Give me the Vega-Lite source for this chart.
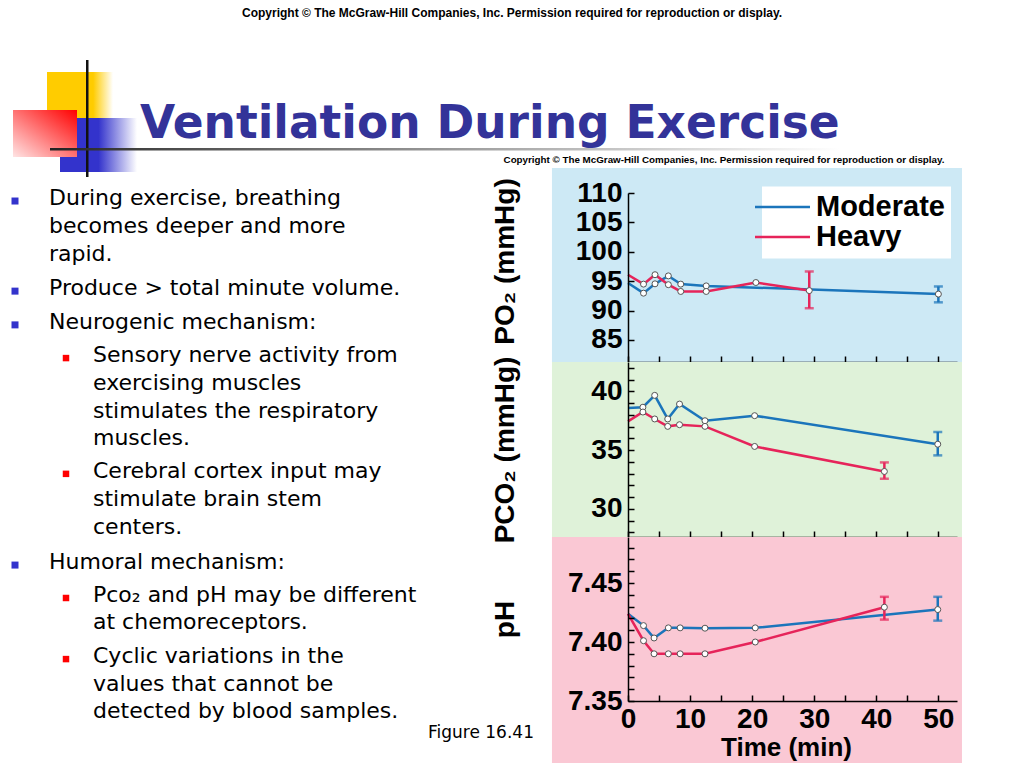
{
  "$schema": "https://vega.github.io/schema/vega-lite/v6.json",
  "padding": 0,
  "background": "white",
  "spacing": 0,
  "bounds": "flush",
  "config": {
    "view": {"stroke": null},
    "font": "Liberation Sans",
    "axis": {
      "grid": false,
      "domainColor": "#000",
      "domainWidth": 1.5,
      "tickColor": "#000",
      "tickWidth": 1.5,
      "labelFont": "Liberation Sans",
      "labelFontWeight": "bold",
      "labelFontSize": 28,
      "labelColor": "#000",
      "labelOverlap": false,
      "labelFlush": false,
      "titleFont": "Liberation Sans",
      "titleFontWeight": "bold",
      "titleFontSize": 28,
      "titleColor": "#000"
    }
  },
  "datasets": {
    "header": [
      {"role": "copy1", "text": "Copyright © The McGraw-Hill Companies, Inc. Permission required for reproduction or display."},
      {"role": "copy2", "text": "Copyright © The McGraw-Hill Companies, Inc. Permission required for reproduction or display."},
      {"role": "title", "text": "Ventilation During Exercise"}
    ],
    "slide": [
      {"text": "During exercise, breathing", "lvl": 1, "line": 0, "bullet": true},
      {"text": "becomes deeper and more", "lvl": 1, "line": 1, "bullet": false},
      {"text": "rapid.", "lvl": 1, "line": 2, "bullet": false},
      {"text": "Produce > total minute volume.", "lvl": 1, "line": 3.23, "bullet": true},
      {"text": "Neurogenic mechanism:", "lvl": 1, "line": 4.44, "bullet": true},
      {"text": "Sensory nerve activity from", "lvl": 2, "line": 5.63, "bullet": true},
      {"text": "exercising muscles", "lvl": 2, "line": 6.63, "bullet": false},
      {"text": "stimulates the respiratory", "lvl": 2, "line": 7.63, "bullet": false},
      {"text": "muscles.", "lvl": 2, "line": 8.6, "bullet": false},
      {"text": "Cerebral cortex input may", "lvl": 2, "line": 9.78, "bullet": true},
      {"text": "stimulate brain stem", "lvl": 2, "line": 10.79, "bullet": false},
      {"text": "centers.", "lvl": 2, "line": 11.79, "bullet": false},
      {"text": "Humoral mechanism:", "lvl": 1, "line": 13.05, "bullet": true},
      {"text": "Pco₂ and pH may be different", "lvl": 2, "line": 14.23, "bullet": true},
      {"text": "at chemoreceptors.", "lvl": 2, "line": 15.2, "bullet": false},
      {"text": "Cyclic variations in the", "lvl": 2, "line": 16.42, "bullet": true},
      {"text": "values that cannot be", "lvl": 2, "line": 17.42, "bullet": false},
      {"text": "detected by blood samples.", "lvl": 2, "line": 18.39, "bullet": false}
    ],
    "fig": [{"text": "Figure 16.41", "line": 19.18}],
    "po2": [
      {"s": "Moderate", "t": 0, "v": 94.7},
      {"s": "Moderate", "t": 2.5, "v": 92.96},
      {"s": "Moderate", "t": 4.35, "v": 94.55},
      {"s": "Moderate", "t": 6.5, "v": 95.9},
      {"s": "Moderate", "t": 8.5, "v": 94.5},
      {"s": "Moderate", "t": 12.6, "v": 94.2},
      {"s": "Moderate", "t": 50, "v": 92.8},
      {"s": "Heavy", "t": 0, "v": 96.1},
      {"s": "Heavy", "t": 2.5, "v": 94.5},
      {"s": "Heavy", "t": 4.35, "v": 96.1},
      {"s": "Heavy", "t": 6.5, "v": 94.4},
      {"s": "Heavy", "t": 8.5, "v": 93.25},
      {"s": "Heavy", "t": 12.6, "v": 93.25},
      {"s": "Heavy", "t": 20.6, "v": 94.77},
      {"s": "Heavy", "t": 29.2, "v": 93.4}
    ],
    "po2err": [
      {"s": "Moderate", "t": 50, "lo": 91.4, "hi": 94.1},
      {"s": "Heavy", "t": 29.2, "lo": 90.4, "hi": 96.65}
    ],
    "pco2": [
      {"s": "Moderate", "t": 0, "v": 38.58},
      {"s": "Moderate", "t": 2.4, "v": 38.65},
      {"s": "Moderate", "t": 4.3, "v": 39.66},
      {"s": "Moderate", "t": 6.4, "v": 37.65},
      {"s": "Moderate", "t": 8.3, "v": 38.92},
      {"s": "Moderate", "t": 12.4, "v": 37.5},
      {"s": "Moderate", "t": 20.4, "v": 37.93},
      {"s": "Moderate", "t": 49.9, "v": 35.5},
      {"s": "Heavy", "t": 0, "v": 37.44},
      {"s": "Heavy", "t": 2.4, "v": 38.24},
      {"s": "Heavy", "t": 4.3, "v": 37.65},
      {"s": "Heavy", "t": 6.4, "v": 37.02},
      {"s": "Heavy", "t": 8.3, "v": 37.16},
      {"s": "Heavy", "t": 12.4, "v": 37.02},
      {"s": "Heavy", "t": 20.4, "v": 35.31},
      {"s": "Heavy", "t": 41.3, "v": 33.18}
    ],
    "pco2err": [
      {"s": "Moderate", "t": 49.9, "lo": 34.55, "hi": 36.54},
      {"s": "Heavy", "t": 41.3, "lo": 32.56, "hi": 33.95}
    ],
    "ph": [
      {"s": "Moderate", "t": 0, "v": 7.4239},
      {"s": "Moderate", "t": 2.5, "v": 7.4139},
      {"s": "Moderate", "t": 4.2, "v": 7.4034},
      {"s": "Moderate", "t": 6.5, "v": 7.412},
      {"s": "Moderate", "t": 8.4, "v": 7.412},
      {"s": "Moderate", "t": 12.4, "v": 7.4117},
      {"s": "Moderate", "t": 20.5, "v": 7.412},
      {"s": "Moderate", "t": 49.9, "v": 7.4275},
      {"s": "Heavy", "t": 0, "v": 7.4239},
      {"s": "Heavy", "t": 2.5, "v": 7.4011},
      {"s": "Heavy", "t": 4.2, "v": 7.39},
      {"s": "Heavy", "t": 6.5, "v": 7.39},
      {"s": "Heavy", "t": 8.4, "v": 7.39},
      {"s": "Heavy", "t": 12.4, "v": 7.39},
      {"s": "Heavy", "t": 20.5, "v": 7.4},
      {"s": "Heavy", "t": 41.3, "v": 7.4295}
    ],
    "pherr": [
      {"s": "Moderate", "t": 49.9, "lo": 7.4181, "hi": 7.4383},
      {"s": "Heavy", "t": 41.3, "lo": 7.419, "hi": 7.4383}
    ]
  },
  "resolve": {"scale": {"color": "independent"}, "legend": {"color": "independent"}},
  "vconcat": [
    {
      "width": 1024,
      "height": 193,
      "view": {"fill": "white", "stroke": null},
      "layer": [
        {
          "data": {"values": [{}]},
          "mark": {"type": "rect", "fill": {"gradient": "linear", "x1": 0, "y1": 0, "x2": 1, "y2": 0, "stops": [{"offset": 0, "color": "#ffcc00"}, {"offset": 0.7, "color": "#ffcc00"}, {"offset": 1, "color": "#ffffff"}]}},
          "encoding": {
            "x": {"datum": 47, "type": "quantitative", "scale": {"domain": [0, 1024], "nice": false, "zero": false}, "axis": null},
            "x2": {"datum": 113},
            "y": {"datum": 72, "type": "quantitative", "scale": {"domain": [0, 193], "nice": false, "zero": false, "reverse": true}, "axis": null},
            "y2": {"datum": 140}
          }
        },
        {
          "data": {"values": [{}]},
          "mark": {"type": "rect", "fill": {"gradient": "linear", "x1": 0, "y1": 0, "x2": 1, "y2": 0, "stops": [{"offset": 0, "color": "#3333cc"}, {"offset": 0.5, "color": "#3333cc"}, {"offset": 1, "color": "#ffffff"}]}},
          "encoding": {
            "x": {"datum": 60, "type": "quantitative", "scale": {"domain": [0, 1024], "nice": false, "zero": false}, "axis": null},
            "x2": {"datum": 137},
            "y": {"datum": 118, "type": "quantitative", "scale": {"domain": [0, 193], "nice": false, "zero": false, "reverse": true}, "axis": null},
            "y2": {"datum": 172}
          }
        },
        {
          "data": {"values": [{}]},
          "mark": {"type": "rect", "fill": {"gradient": "linear", "x1": 1, "y1": 0, "x2": 0, "y2": 1, "stops": [{"offset": 0, "color": "#ff0000"}, {"offset": 1, "color": "#ffe4e4"}]}},
          "encoding": {
            "x": {"datum": 13, "type": "quantitative", "scale": {"domain": [0, 1024], "nice": false, "zero": false}, "axis": null},
            "x2": {"datum": 77},
            "y": {"datum": 110, "type": "quantitative", "scale": {"domain": [0, 193], "nice": false, "zero": false, "reverse": true}, "axis": null},
            "y2": {"datum": 157}
          }
        },
        {
          "data": {"values": [{}]},
          "mark": {"type": "rect", "fill": "#111111"},
          "encoding": {
            "x": {"datum": 86, "type": "quantitative", "scale": {"domain": [0, 1024], "nice": false, "zero": false}, "axis": null},
            "x2": {"datum": 88.5},
            "y": {"datum": 60, "type": "quantitative", "scale": {"domain": [0, 193], "nice": false, "zero": false, "reverse": true}, "axis": null},
            "y2": {"datum": 177}
          }
        },
        {
          "data": {"values": [{}]},
          "mark": {"type": "rect", "fill": {"gradient": "linear", "x1": 0, "y1": 0, "x2": 1, "y2": 0, "stops": [{"offset": 0, "color": "#222222"}, {"offset": 0.12, "color": "#444444"}, {"offset": 0.5, "color": "#999999"}, {"offset": 1, "color": "#ffffff"}]}},
          "encoding": {
            "x": {"datum": 50, "type": "quantitative", "scale": {"domain": [0, 1024], "nice": false, "zero": false}, "axis": null},
            "x2": {"datum": 840},
            "y": {"datum": 148, "type": "quantitative", "scale": {"domain": [0, 193], "nice": false, "zero": false, "reverse": true}, "axis": null},
            "y2": {"datum": 150.5}
          }
        },
        {
          "data": {"name": "header"},
          "transform": [{"filter": "datum.role === 'title'"}],
          "mark": {"type": "text", "font": "DejaVu Sans", "fontWeight": "bold", "fontSize": 45.5, "color": "#333399", "align": "left", "baseline": "alphabetic"},
          "encoding": {
            "x": {"datum": 140, "type": "quantitative", "scale": {"domain": [0, 1024], "nice": false, "zero": false}, "axis": null},
            "y": {"datum": 138, "type": "quantitative", "scale": {"domain": [0, 193], "nice": false, "zero": false, "reverse": true}, "axis": null},
            "text": {"field": "text"}
          }
        },
        {
          "data": {"name": "header"},
          "transform": [{"filter": "datum.role === 'copy1'"}],
          "mark": {"type": "text", "font": "Liberation Sans", "fontWeight": "bold", "fontSize": 12, "color": "#000", "align": "center", "baseline": "middle"},
          "encoding": {
            "x": {"datum": 512, "type": "quantitative", "scale": {"domain": [0, 1024], "nice": false, "zero": false}, "axis": null},
            "y": {"datum": 13, "type": "quantitative", "scale": {"domain": [0, 193], "nice": false, "zero": false, "reverse": true}, "axis": null},
            "text": {"field": "text"}
          }
        },
        {
          "data": {"name": "header"},
          "transform": [{"filter": "datum.role === 'copy2'"}],
          "mark": {"type": "text", "font": "Liberation Sans", "fontWeight": "bold", "fontSize": 9.8, "color": "#000", "align": "center", "baseline": "middle"},
          "encoding": {
            "x": {"datum": 724, "type": "quantitative", "scale": {"domain": [0, 1024], "nice": false, "zero": false}, "axis": null},
            "y": {"datum": 160, "type": "quantitative", "scale": {"domain": [0, 193], "nice": false, "zero": false, "reverse": true}, "axis": null},
            "text": {"field": "text"}
          }
        }
      ]
    },
    {
      "hconcat": [
        {
          "width": 628,
          "height": 508,
          "view": {"fill": "white", "stroke": null},
          "resolve": {"scale": {"x": "independent"}},
          "layer": [
            {
              "data": {"name": "slide"},
              "mark": {"type": "text", "font": "DejaVu Sans", "fontSize": 22, "color": "#000", "align": "left", "baseline": "middle"},
              "encoding": {
                "x": {"field": "lvl", "type": "quantitative", "scale": {"domain": [1, 2], "range": [49, 93], "nice": false, "zero": false}, "axis": null},
                "y": {"field": "line", "type": "quantitative", "scale": {"domain": [-0.18, 18.03], "nice": false, "zero": false, "reverse": true}, "axis": null},
                "text": {"field": "text"}
              }
            },
            {
              "data": {"name": "slide"},
              "transform": [{"filter": "datum.bullet && datum.lvl === 1"}],
              "mark": {"type": "square", "size": 49, "color": "#3333cc", "opacity": 1, "xOffset": -34, "yOffset": 3},
              "encoding": {
                "x": {"field": "lvl", "type": "quantitative", "scale": {"domain": [1, 2], "range": [49, 93], "nice": false, "zero": false}, "axis": null},
                "y": {"field": "line", "type": "quantitative", "scale": {"domain": [-0.18, 18.03], "nice": false, "zero": false, "reverse": true}, "axis": null}
              }
            },
            {
              "data": {"name": "slide"},
              "transform": [{"filter": "datum.bullet && datum.lvl === 2"}],
              "mark": {"type": "square", "size": 42, "color": "#ff0000", "opacity": 1, "xOffset": -27, "yOffset": 3},
              "encoding": {
                "x": {"field": "lvl", "type": "quantitative", "scale": {"domain": [1, 2], "range": [49, 93], "nice": false, "zero": false}, "axis": null},
                "y": {"field": "line", "type": "quantitative", "scale": {"domain": [-0.18, 18.03], "nice": false, "zero": false, "reverse": true}, "axis": null}
              }
            },
            {
              "data": {"name": "fig"},
              "mark": {"type": "text", "font": "DejaVu Sans", "fontSize": 17, "color": "#000", "align": "left", "baseline": "middle"},
              "encoding": {
                "x": {"datum": 428, "type": "quantitative", "scale": {"domain": [0, 628], "nice": false, "zero": false}, "axis": null},
                "y": {"field": "line", "type": "quantitative", "scale": {"domain": [-0.18, 18.03], "nice": false, "zero": false, "reverse": true}, "axis": null},
                "text": {"field": "text"}
              }
            }
          ]
        },
        {
          "spacing": 0,
          "bounds": "flush",
          "resolve": {"scale": {"color": "independent"}, "legend": {"color": "independent"}},
          "vconcat": [
            {
              "width": 329,
              "height": 169,
              "layer": [
                {
                  "data": {"values": [{}]},
                  "mark": {"type": "rect", "fill": "#cde9f5"},
                  "encoding": {
                    "x": {"datum": -12.25, "type": "quantitative", "title": null, "scale": {"domain": [0, 53], "nice": false, "zero": false},
                      "axis": {"zindex": 1, "labelOverlap": false, "values": [0, 5, 10, 15, 20, 25, 30, 35, 40, 45, 50], "labels": false, "tickSize": -6}},
                    "x2": {"datum": 53.8},
                    "y": {"datum": 114.26, "type": "quantitative", "title": "PO₂ (mmHg)", "scale": {"domain": [81.25, 110], "nice": false, "zero": false},
                      "axis": {"zindex": 1, "labelOverlap": false, "values": [85, 90, 95, 100, 105, 110], "tickSize": -6, "labelPadding": 12, "titleX": -123, "titleY": 68, "titleBaseline": "middle"}},
                    "y2": {"datum": 81.25}
                  }
                },
                {
                  "data": {"name": "po2"},
                  "mark": {"type": "line", "strokeWidth": 2.5},
                  "encoding": {
                    "x": {"field": "t", "type": "quantitative", "title": null, "scale": {"domain": [0, 53], "nice": false, "zero": false},
                      "axis": {"zindex": 1, "labelOverlap": false, "values": [0, 5, 10, 15, 20, 25, 30, 35, 40, 45, 50], "labels": false, "tickSize": -6}},
                    "y": {"field": "v", "type": "quantitative", "title": "PO₂ (mmHg)", "scale": {"domain": [81.25, 110], "nice": false, "zero": false},
                      "axis": {"zindex": 1, "labelOverlap": false, "values": [85, 90, 95, 100, 105, 110], "tickSize": -6, "labelPadding": 12, "titleX": -123, "titleY": 68, "titleBaseline": "middle"}},
                    "color": {"field": "s", "type": "nominal", "scale": {"domain": ["Moderate", "Heavy"], "range": ["#1b75bb", "#e6245a"]},
                      "legend": {"orient": "none", "legendX": 134, "legendY": -6.5, "title": null, "symbolType": "M-4,0H4", "symbolSize": 189, "symbolStrokeWidth": 2.5, "labelFont": "Liberation Sans", "labelFontWeight": "bold", "labelFontSize": 29, "labelColor": "#000", "fillColor": "white", "padding": 6, "rowPadding": -8, "labelOffset": 19}}
                  }
                },
                {
                  "data": {"name": "po2err"},
                  "mark": {"type": "errorbar", "ticks": true, "size": 9, "thickness": 2.5},
                  "encoding": {
                    "x": {"field": "t", "type": "quantitative", "title": null, "scale": {"domain": [0, 53], "nice": false, "zero": false},
                      "axis": {"zindex": 1, "labelOverlap": false, "values": [0, 5, 10, 15, 20, 25, 30, 35, 40, 45, 50], "labels": false, "tickSize": -6}},
                    "y": {"field": "lo", "type": "quantitative", "title": "PO₂ (mmHg)", "scale": {"domain": [81.25, 110], "nice": false, "zero": false},
                      "axis": {"zindex": 1, "labelOverlap": false, "values": [85, 90, 95, 100, 105, 110], "tickSize": -6, "labelPadding": 12, "titleX": -123, "titleY": 68, "titleBaseline": "middle"}},
                    "y2": {"field": "hi"},
                    "color": {"field": "s", "type": "nominal", "scale": {"domain": ["Moderate", "Heavy"], "range": ["#1b75bb", "#e6245a"]}, "legend": null}
                  }
                },
                {
                  "data": {"name": "po2"},
                  "transform": [{"filter": "datum.t > 0"}],
                  "mark": {"type": "circle", "size": 36, "fill": "white", "stroke": "#555555", "strokeWidth": 1, "opacity": 1},
                  "encoding": {
                    "x": {"field": "t", "type": "quantitative", "title": null, "scale": {"domain": [0, 53], "nice": false, "zero": false},
                      "axis": {"zindex": 1, "labelOverlap": false, "values": [0, 5, 10, 15, 20, 25, 30, 35, 40, 45, 50], "labels": false, "tickSize": -6}},
                    "y": {"field": "v", "type": "quantitative", "title": "PO₂ (mmHg)", "scale": {"domain": [81.25, 110], "nice": false, "zero": false},
                      "axis": {"zindex": 1, "labelOverlap": false, "values": [85, 90, 95, 100, 105, 110], "tickSize": -6, "labelPadding": 12, "titleX": -123, "titleY": 68, "titleBaseline": "middle"}}
                  }
                }
              ]
            },
            {
              "width": 329,
              "height": 175,
              "layer": [
                {
                  "data": {"values": [{}]},
                  "mark": {"type": "rect", "fill": "#dff2d9"},
                  "encoding": {
                    "x": {"datum": -12.25, "type": "quantitative", "title": null, "scale": {"domain": [0, 53], "nice": false, "zero": false},
                      "axis": {"zindex": 1, "labelOverlap": false, "values": [0, 5, 10, 15, 20, 25, 30, 35, 40, 45, 50], "labels": false, "tickSize": -6}},
                    "x2": {"datum": 53.8},
                    "y": {"datum": 42.5, "type": "quantitative", "title": "PCO₂ (mmHg)", "scale": {"domain": [27.6, 42.5], "nice": false, "zero": false},
                      "axis": {"zindex": 1, "labelOverlap": false, "values": [28, 29, 30, 31, 32, 33, 34, 35, 36, 37, 38, 39, 40, 41, 42], "labelExpr": "datum.value % 5 === 0 ? datum.label : ''", "tickSize": -6, "labelPadding": 12, "titleX": -123, "titleBaseline": "middle"}},
                    "y2": {"datum": 27.6}
                  }
                },
                {
                  "data": {"name": "pco2"},
                  "mark": {"type": "line", "strokeWidth": 2.5},
                  "encoding": {
                    "x": {"field": "t", "type": "quantitative", "title": null, "scale": {"domain": [0, 53], "nice": false, "zero": false},
                      "axis": {"zindex": 1, "labelOverlap": false, "values": [0, 5, 10, 15, 20, 25, 30, 35, 40, 45, 50], "labels": false, "tickSize": -6}},
                    "y": {"field": "v", "type": "quantitative", "title": "PCO₂ (mmHg)", "scale": {"domain": [27.6, 42.5], "nice": false, "zero": false},
                      "axis": {"zindex": 1, "labelOverlap": false, "values": [28, 29, 30, 31, 32, 33, 34, 35, 36, 37, 38, 39, 40, 41, 42], "labelExpr": "datum.value % 5 === 0 ? datum.label : ''", "tickSize": -6, "labelPadding": 12, "titleX": -123, "titleBaseline": "middle"}},
                    "color": {"field": "s", "type": "nominal", "scale": {"domain": ["Moderate", "Heavy"], "range": ["#1b75bb", "#e6245a"]}, "legend": null}
                  }
                },
                {
                  "data": {"name": "pco2err"},
                  "mark": {"type": "errorbar", "ticks": true, "size": 9, "thickness": 2.5},
                  "encoding": {
                    "x": {"field": "t", "type": "quantitative", "title": null, "scale": {"domain": [0, 53], "nice": false, "zero": false},
                      "axis": {"zindex": 1, "labelOverlap": false, "values": [0, 5, 10, 15, 20, 25, 30, 35, 40, 45, 50], "labels": false, "tickSize": -6}},
                    "y": {"field": "lo", "type": "quantitative", "title": "PCO₂ (mmHg)", "scale": {"domain": [27.6, 42.5], "nice": false, "zero": false},
                      "axis": {"zindex": 1, "labelOverlap": false, "values": [28, 29, 30, 31, 32, 33, 34, 35, 36, 37, 38, 39, 40, 41, 42], "labelExpr": "datum.value % 5 === 0 ? datum.label : ''", "tickSize": -6, "labelPadding": 12, "titleX": -123, "titleBaseline": "middle"}},
                    "y2": {"field": "hi"},
                    "color": {"field": "s", "type": "nominal", "scale": {"domain": ["Moderate", "Heavy"], "range": ["#1b75bb", "#e6245a"]}, "legend": null}
                  }
                },
                {
                  "data": {"name": "pco2"},
                  "transform": [{"filter": "datum.t > 0"}],
                  "mark": {"type": "circle", "size": 36, "fill": "white", "stroke": "#555555", "strokeWidth": 1, "opacity": 1},
                  "encoding": {
                    "x": {"field": "t", "type": "quantitative", "title": null, "scale": {"domain": [0, 53], "nice": false, "zero": false},
                      "axis": {"zindex": 1, "labelOverlap": false, "values": [0, 5, 10, 15, 20, 25, 30, 35, 40, 45, 50], "labels": false, "tickSize": -6}},
                    "y": {"field": "v", "type": "quantitative", "title": "PCO₂ (mmHg)", "scale": {"domain": [27.6, 42.5], "nice": false, "zero": false},
                      "axis": {"zindex": 1, "labelOverlap": false, "values": [28, 29, 30, 31, 32, 33, 34, 35, 36, 37, 38, 39, 40, 41, 42], "labelExpr": "datum.value % 5 === 0 ? datum.label : ''", "tickSize": -6, "labelPadding": 12, "titleX": -123, "titleBaseline": "middle"}}
                  }
                }
              ]
            },
            {
              "width": 329,
              "height": 164,
              "layer": [
                {
                  "data": {"values": [{}]},
                  "mark": {"type": "rect", "fill": "#fac8d4"},
                  "encoding": {
                    "x": {"datum": -12.25, "type": "quantitative", "title": "Time (min)", "scale": {"domain": [0, 53], "nice": false, "zero": false},
                      "axis": {"zindex": 1, "labelOverlap": false, "values": [0, 5, 10, 15, 20, 25, 30, 35, 40, 45, 50], "labelExpr": "datum.value % 10 === 0 ? datum.label : ''", "tickSize": -6, "labelPadding": 10, "titleFontSize": 26, "titleX": 158, "titleY": 46, "titleBaseline": "middle"}},
                    "x2": {"datum": 53.8},
                    "y": {"datum": 7.489, "type": "quantitative", "title": "pH", "scale": {"domain": [7.35, 7.489], "nice": false, "zero": false},
                      "axis": {"zindex": 1, "labelOverlap": false, "values": [7.35, 7.36, 7.37, 7.38, 7.39, 7.4, 7.41, 7.42, 7.43, 7.44, 7.45, 7.46, 7.47, 7.48], "labelExpr": "round(datum.value * 100) % 5 === 0 ? format(datum.value, '.2f') : ''", "tickSize": -6, "labelPadding": 12, "titleX": -123, "titleBaseline": "middle"}},
                    "y2": {"datum": 7.2975}
                  }
                },
                {
                  "data": {"name": "ph"},
                  "mark": {"type": "line", "strokeWidth": 2.5},
                  "encoding": {
                    "x": {"field": "t", "type": "quantitative", "title": "Time (min)", "scale": {"domain": [0, 53], "nice": false, "zero": false},
                      "axis": {"zindex": 1, "labelOverlap": false, "values": [0, 5, 10, 15, 20, 25, 30, 35, 40, 45, 50], "labelExpr": "datum.value % 10 === 0 ? datum.label : ''", "tickSize": -6, "labelPadding": 10, "titleFontSize": 26, "titleX": 158, "titleY": 46, "titleBaseline": "middle"}},
                    "y": {"field": "v", "type": "quantitative", "title": "pH", "scale": {"domain": [7.35, 7.489], "nice": false, "zero": false},
                      "axis": {"zindex": 1, "labelOverlap": false, "values": [7.35, 7.36, 7.37, 7.38, 7.39, 7.4, 7.41, 7.42, 7.43, 7.44, 7.45, 7.46, 7.47, 7.48], "labelExpr": "round(datum.value * 100) % 5 === 0 ? format(datum.value, '.2f') : ''", "tickSize": -6, "labelPadding": 12, "titleX": -123, "titleBaseline": "middle"}},
                    "color": {"field": "s", "type": "nominal", "scale": {"domain": ["Moderate", "Heavy"], "range": ["#1b75bb", "#e6245a"]}, "legend": null}
                  }
                },
                {
                  "data": {"name": "pherr"},
                  "mark": {"type": "errorbar", "ticks": true, "size": 9, "thickness": 2.5},
                  "encoding": {
                    "x": {"field": "t", "type": "quantitative", "title": "Time (min)", "scale": {"domain": [0, 53], "nice": false, "zero": false},
                      "axis": {"zindex": 1, "labelOverlap": false, "values": [0, 5, 10, 15, 20, 25, 30, 35, 40, 45, 50], "labelExpr": "datum.value % 10 === 0 ? datum.label : ''", "tickSize": -6, "labelPadding": 10, "titleFontSize": 26, "titleX": 158, "titleY": 46, "titleBaseline": "middle"}},
                    "y": {"field": "lo", "type": "quantitative", "title": "pH", "scale": {"domain": [7.35, 7.489], "nice": false, "zero": false},
                      "axis": {"zindex": 1, "labelOverlap": false, "values": [7.35, 7.36, 7.37, 7.38, 7.39, 7.4, 7.41, 7.42, 7.43, 7.44, 7.45, 7.46, 7.47, 7.48], "labelExpr": "round(datum.value * 100) % 5 === 0 ? format(datum.value, '.2f') : ''", "tickSize": -6, "labelPadding": 12, "titleX": -123, "titleBaseline": "middle"}},
                    "y2": {"field": "hi"},
                    "color": {"field": "s", "type": "nominal", "scale": {"domain": ["Moderate", "Heavy"], "range": ["#1b75bb", "#e6245a"]}, "legend": null}
                  }
                },
                {
                  "data": {"name": "ph"},
                  "transform": [{"filter": "datum.t > 0"}],
                  "mark": {"type": "circle", "size": 36, "fill": "white", "stroke": "#555555", "strokeWidth": 1, "opacity": 1},
                  "encoding": {
                    "x": {"field": "t", "type": "quantitative", "title": "Time (min)", "scale": {"domain": [0, 53], "nice": false, "zero": false},
                      "axis": {"zindex": 1, "labelOverlap": false, "values": [0, 5, 10, 15, 20, 25, 30, 35, 40, 45, 50], "labelExpr": "datum.value % 10 === 0 ? datum.label : ''", "tickSize": -6, "labelPadding": 10, "titleFontSize": 26, "titleX": 158, "titleY": 46, "titleBaseline": "middle"}},
                    "y": {"field": "v", "type": "quantitative", "title": "pH", "scale": {"domain": [7.35, 7.489], "nice": false, "zero": false},
                      "axis": {"zindex": 1, "labelOverlap": false, "values": [7.35, 7.36, 7.37, 7.38, 7.39, 7.4, 7.41, 7.42, 7.43, 7.44, 7.45, 7.46, 7.47, 7.48], "labelExpr": "round(datum.value * 100) % 5 === 0 ? format(datum.value, '.2f') : ''", "tickSize": -6, "labelPadding": 12, "titleX": -123, "titleBaseline": "middle"}}
                  }
                }
              ]
            }
          ]
        }
      ],
      "spacing": 0,
      "bounds": "flush",
      "resolve": {"scale": {"color": "independent"}, "legend": {"color": "independent"}}
    }
  ]
}
